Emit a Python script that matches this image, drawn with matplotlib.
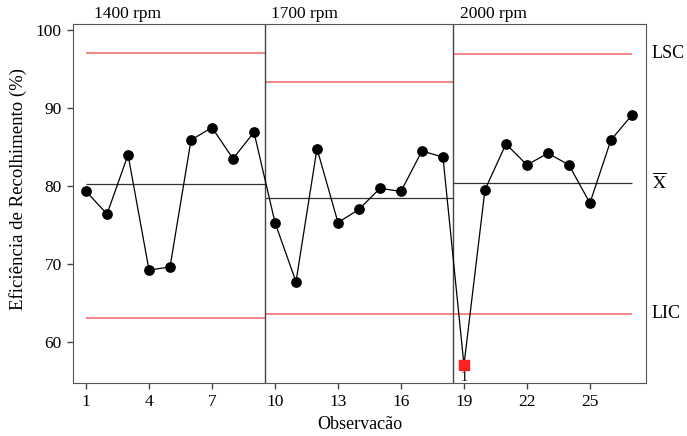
import matplotlib.pyplot as plt
import numpy as np

plt.rcParams['font.family'] = ['Liberation Serif', 'DejaVu Serif']
plt.rcParams['mathtext.fontset'] = 'stix'

# dados da carta de controle
obs = list(range(1, 28))
eficiencia = [79.3, 76.4, 84.0, 69.2, 69.6, 85.9, 87.5, 83.5, 86.9,
              75.3, 67.7, 84.8, 75.3, 77.0, 79.7, 79.3, 84.5, 83.7,
              57.0, 79.5, 85.4, 82.7, 84.2, 82.7, 77.8, 85.9, 89.1]
grupos = ['1400 rpm', '1700 rpm', '2000 rpm']
lsc = [97.1, 93.4, 97.0]
media = [80.3, 78.5, 80.4]
lic = [63.0, 63.5, 63.6]
inicio = [1, 9.5, 18.5]
fim = [9.5, 18.5, 27]
fora = [19]

fig = plt.figure(figsize=(6.87, 4.36), dpi=100)
ax = fig.add_axes([0.1063, 0.1216, 0.834, 0.8234])

for i in range(3):
    ax.hlines(lsc[i], inicio[i], fim[i], color='#f07070', lw=1.2)
    ax.hlines(lic[i], inicio[i], fim[i], color='#f07070', lw=1.2)
    ax.hlines(media[i], inicio[i], fim[i], color='#333333', lw=0.9)
    ax.text(inicio[i] + (0.4 if i == 0 else 0.3), 101.0, grupos[i], fontsize=12.5,
            ha='left', va='bottom')
for d in [9.5, 18.5]:
    ax.axvline(d, color='#444444', lw=1)

ax.plot(obs, eficiencia, color='black', lw=0.9, zorder=3)
normais = [(o, e) for o, e in zip(obs, eficiencia) if o not in fora]
ax.scatter([p[0] for p in normais], [p[1] for p in normais], s=45, color='black', zorder=4)
for o in fora:
    ax.scatter(o, eficiencia[o - 1], s=45, marker='s', color='#ff2020', zorder=4)
    ax.text(o, eficiencia[o - 1] - 0.8, '1', fontsize=10, ha='center', va='top')

ax.text(1.01, (lsc[2] - 54.7) / (100.8 - 54.7), 'LSC', transform=ax.transAxes,
        fontsize=13, va='center')
ax.text(1.01, (media[2] - 54.7) / (100.8 - 54.7), r'$\overline{\mathrm{X}}$', transform=ax.transAxes,
        fontsize=13, va='center')
ax.text(1.01, (lic[2] - 54.7) / (100.8 - 54.7), 'LIC', transform=ax.transAxes,
        fontsize=13, va='center')

ax.set_xlim(0.38, 27.67)
ax.set_ylim(54.7, 100.8)
ax.set_xticks([1, 4, 7, 10, 13, 16, 19, 22, 25])
ax.set_yticks([60, 70, 80, 90, 100])
ax.tick_params(labelsize=12.5, color='#444444', length=4, width=1, pad=4)
for s in ax.spines.values():
    s.set_color('#555555')
ax.set_xlabel('Observacão', fontsize=13)
ax.xaxis.set_label_coords(0.5, -0.092)
ax.set_ylabel('Eficiência de Recolhimento (%)', fontsize=13.5)
ax.yaxis.set_label_coords(-0.08, 0.54)

fig.savefig('out.png', dpi=100)
